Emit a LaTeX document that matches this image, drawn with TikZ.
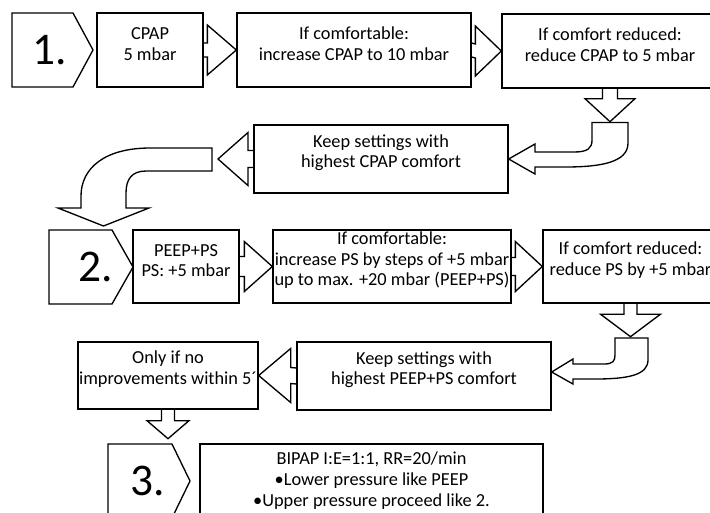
\documentclass[tikz,border=0pt]{standalone}
\usepackage{fontspec}
\setmainfont{Carlito}
\usetikzlibrary{fit,calc}
\newcommand\bodyfont{\fontsize{13.75}{15.5}\selectfont}
\newcommand\numfont{\fontsize{34}{34}\selectfont}
\tikzset{
  box/.style={draw, line width=1pt, inner sep=0pt, align=center, font=\bodyfont},
  blk/.style={draw, line width=1pt, line join=miter},
  num/.style={font=\numfont, inner sep=0pt},
}
\begin{document}
\begin{tikzpicture}[x=0.75pt,y=-0.75pt]
\useasboundingbox (0,0) rectangle (710,512);
\clip (0,0) rectangle (710,512);

% ---------- row 1
\draw[blk] (12,13) -- (73,13) -- (93,50) -- (73,87) -- (12,87) -- cycle;
\node[num] (n1) at (50,50) {1.};
\node[box, fit={(97,13)(203,87)}] (b1) {CPAP\\5 mbar};
\node[box, fit={(237,13)(471,87)}] (b2) {If comfortable:\\increase CPAP to 10 mbar};
\node[box, fit={(502,14)(718,88)}] (b3) {If comfort reduced:\\reduce CPAP to 5 mbar};

\draw[blk] ($(b1.east)+(0,-7)$) -- ($(b2.west)+(-29,-7)$) -- ($(b2.west)+(-29,-25)$) -- (b2.west)
  -- ($(b2.west)+(-29,25)$) -- ($(b2.west)+(-29,7)$) -- ($(b1.east)+(0,7)$);
\draw[blk] ($(b2.east)+(0,-7)$) -- ($(b3.west)+(-26,-7)$) -- ($(b3.west)+(-26,-25)$) -- (b3.west)
  -- ($(b3.west)+(-26,25)$) -- ($(b3.west)+(-26,7)$) -- ($(b2.east)+(0,7)$);

\coordinate (t3) at ($(b3.south)+(0,33)$);
\draw[blk] ($(b3.south)+(-7.5,0)$) -- ($(t3)+(-7.5,-23)$) -- ($(t3)+(-25,-23)$) -- (t3)
  -- ($(t3)+(25,-23)$) -- ($(t3)+(7.5,-23)$) -- ($(b3.south)+(7.5,0)$);

\node[box, fit={(254,125)(508,193)}] (k1) {Keep settings with\\highest CPAP comfort};

% bent arrow into keep box 1
\draw[blk] (592,122.5) -- (628,122.5) -- (628,143) .. controls (628,162) and (602,167) .. (565,167)
  -- (535,167) -- (535,174) -- (k1.east) -- (535,144) -- (535,152) -- (574,152)
  .. controls (588,152) and (592,148) .. (592,140) -- cycle;

\coordinate (t1) at (218,159);
\draw[blk] ($(k1.west)+(0,-8.5)$) -- ($(t1)+(30,-8.5)$) -- ($(t1)+(30,-26.5)$) -- (t1)
  -- ($(t1)+(30,26.5)$) -- ($(t1)+(30,8.5)$) -- ($(k1.west)+(0,8.5)$);

% big curved arrow
\draw[blk] (212,148) -- (150,148) .. controls (105,148) and (81,168) .. (81,196) -- (81,208)
  -- (58,208) -- (103.5,226) -- (149,208) -- (126,208) -- (126,193)
  .. controls (126,179) and (132,171) .. (146,171) -- (212,171) -- cycle;

% ---------- row 2
\draw[blk] (49,230) -- (112,230) -- (133,267) -- (112,304) -- (49,304) -- cycle;
\node[num] (n2) at (96,267) {2.};
\node[box, fit={(133,230)(239,303)}] (b4) {PEEP+PS\\PS: +5 mbar};
\node[box, fit={(273,230)(511,303)}] (b5) {If comfortable:\\increase PS by steps of +5 mbar\\up to max. +20 mbar (PEEP+PS)};
\node[box, fit={(543,230)(718,303)}] (b6) {If comfort reduced:\\reduce PS by +5 mbar};

\draw[blk] ($(b4.east)+(0,-10)$) -- ($(b5.west)+(-28,-10)$) -- ($(b5.west)+(-28,-25)$) -- (b5.west)
  -- ($(b5.west)+(-28,25)$) -- ($(b5.west)+(-28,10)$) -- ($(b4.east)+(0,10)$);
\draw[blk] ($(b5.east)+(0,-9)$) -- ($(b6.west)+(-27,-9)$) -- ($(b6.west)+(-27,-25)$) -- (b6.west)
  -- ($(b6.west)+(-27,25)$) -- ($(b6.west)+(-27,9)$) -- ($(b5.east)+(0,9)$);

\coordinate (t6) at ($(b6.south)+(0,33)$);
\draw[blk] ($(b6.south)+(-6.5,0)$) -- ($(t6)+(-6.5,-22.5)$) -- ($(t6)+(-30,-22.5)$) -- (t6)
  -- ($(t6)+(30,-22.5)$) -- ($(t6)+(6.5,-22.5)$) -- ($(b6.south)+(6.5,0)$);

\node[box, fit={(297,342)(551,410)}] (k2) {Keep settings with\\highest PEEP+PS comfort};
\coordinate (t5) at ($(k2.east)+(0,-4)$);
\draw[blk] (615,338) -- (648,338) -- (648,360) .. controls (648,375) and (628,379) .. (595,379)
  -- (573,379) -- (573,384) -- (t5) -- (573,359) -- (573,364) -- (604,364)
  .. controls (613,364) and (615,361) .. (615,355) -- cycle;

\node[box, fit={(78,342)(258,409)}] (o1) {Only if no\\improvements within 5´};
\draw[blk] ($(k2.west)+(0,-8)$) -- ($(o1.east)+(32,-8)$) -- ($(o1.east)+(32,-27)$) -- (o1.east)
  -- ($(o1.east)+(32,27)$) -- ($(o1.east)+(32,8)$) -- ($(k2.west)+(0,8)$);

\coordinate (t7) at ($(o1.south)+(0,29)$);
\draw[blk] ($(o1.south)+(-6.5,0)$) -- ($(t7)+(-6.5,-18)$) -- ($(t7)+(-21,-18)$) -- (t7)
  -- ($(t7)+(21,-18)$) -- ($(t7)+(6.5,-18)$) -- ($(o1.south)+(6.5,0)$);

% ---------- row 3
\draw[blk] (108,444) -- (172,444) -- (190,481) -- (172,518) -- (108,518) -- cycle;
\node[num] (n3) at (148,481) {3.};
\node[box, fit={(200,444)(543,530)}] (b7) {BIPAP I:E=1:1, RR=20/min\\•Lower pressure like PEEP\\•Upper pressure proceed like 2.};
\end{tikzpicture}
\end{document}
